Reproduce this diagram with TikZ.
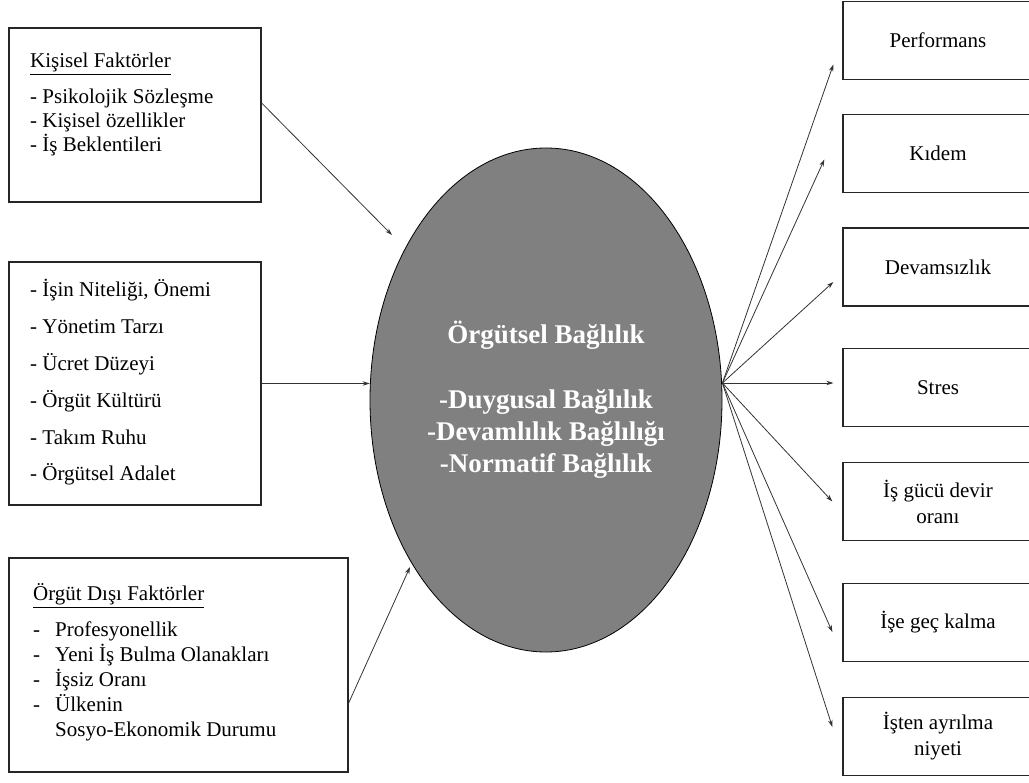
\documentclass[tikz,border=0pt]{standalone}
\usepackage{fontspec}
\setmainfont{Liberation Serif}
\usepackage{tikz}
\usetikzlibrary{positioning,arrows.meta,shapes.geometric}

\newcommand{\yazi}{\fontsize{21}{26}\selectfont}
\newcommand{\iriyazi}{\fontsize{27}{32}\selectfont\bfseries}

\begin{document}
\begin{tikzpicture}[x=1pt,y=-1pt]
	\definecolor{elipsgri}{RGB}{128,128,128}
	\tikzset{
		kutu/.style={
			rectangle,
			draw=black!85,
			line width=1.3pt,
			inner sep=0pt
		},
		sonuc/.style={
			kutu,
			minimum width=190pt,
			minimum height=78pt,
			align=center,
			font=\yazi
		},
		satir/.style={
			anchor=base west,
			inner sep=0pt,
			font=\yazi
		},
		ok/.style={
			draw=black!80,
			line width=0.8pt,
			-{Stealth[length=7pt,width=4.5pt]}
		}
	}
	\useasboundingbox (0,0) rectangle (1029,783);

	% ======= Sol kutular =======
	\node[kutu, minimum width=252pt, minimum height=174pt] (kisisel) at (135,115) {};
	\node[satir] (kisiselbaslik) at (30,68) {\underline{Kişisel Faktörler}};
	\foreach \t [count=\i] in {Psikolojik Sözleşme, Kişisel özellikler, İş Beklentileri}
		\node[satir] (kisisel\i) at (30,{104+24*(\i-1)}) {- \t};

	\node[kutu, minimum width=252pt, minimum height=243pt] (kurum) at (135,383.5) {};
	\foreach \t [count=\i] in {{İşin Niteliği, Önemi}, Yönetim Tarzı, Ücret Düzeyi, Örgüt Kültürü, Takım Ruhu, Örgütsel Adalet}
		\node[satir] (kurum\i) at (30,{297+36.8*(\i-1)}) {- \t};

	\node[kutu, minimum width=339pt, minimum height=214pt] (dis) at (178.5,665) {};
	\node[satir] (disbaslik) at (33,601) {\underline{Örgüt Dışı Faktörler}};
	\foreach \t [count=\i] in {Profesyonellik, Yeni İş Bulma Olanakları, İşsiz Oranı, Ülkenin}
		\node[satir] (dis\i) at (33,{636+25*(\i-1)}) {\makebox[22pt][l]{-}\t};
	\node[satir] (dis5) at (55,736) {Sosyo-Ekonomik Durumu};

	% ======= Elips =======
	\node[ellipse, draw=black, line width=0.8pt, fill=elipsgri,
		minimum width=352pt, minimum height=504pt, inner sep=0pt,
		text=white, align=center, font=\iriyazi] (orgut) at (546,400)
		{Örgütsel Bağlılık\\[33pt]-Duygusal Bağlılık\\-Devamlılık Bağlılığı\\-Normatif Bağlılık};
	\coordinate (merkez) at ([yshift=17pt]orgut.east);

	% ======= Sağ kutular =======
	\node[sonuc] (perf) at (938,40.5) {Performans};
	\node[sonuc] (kidem) at (938,153.5) {Kıdem};
	\node[sonuc] (devam) at (938,267) {Devamsızlık};
	\node[sonuc] (stres) at (938,387.5) {Stres};
	\node[sonuc] (isgucu) at (938,501.5) {İş gücü devir\\oranı};
	\node[sonuc] (gec) at (938,622.5) {İşe geç kalma};
	\node[sonuc] (isten) at (938,736.5) {İşten ayrılma\\niyeti};

	% ======= Oklar =======
	\draw[ok] ([yshift=12pt]kisisel.east) -- ([xshift=-154pt,yshift=165pt]orgut.center);
	\draw[ok] (kurum.east) -- (kurum.east -| orgut.west);
	\draw[ok] ([yshift=-38pt]dis.east) -- ([xshift=-136pt,yshift=-167pt]orgut.center);
	\foreach \hedef/\dx/\dy in {perf/-9/-24, kidem/-18/-6, devam/-9/-15, stres/-9/4.5, isgucu/-10/0, gec/-10/-9.5, isten/-10/9.5}
		\draw[ok] (merkez) -- ([xshift=\dx pt,yshift=\dy pt]\hedef.west);
\end{tikzpicture}
\end{document}
